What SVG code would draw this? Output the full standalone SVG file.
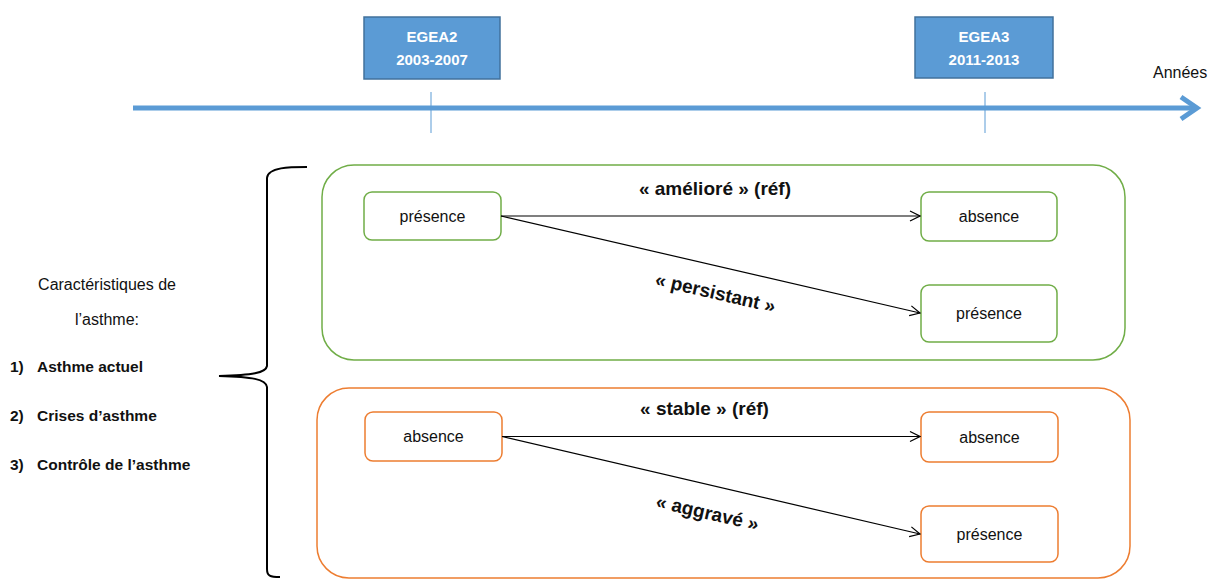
<svg xmlns="http://www.w3.org/2000/svg" width="1216" height="580" viewBox="0 0 1216 580">
<style>
text{font-family:"Liberation Sans",Arial,sans-serif;fill:#111}
.egea{fill:#5b9bd5;stroke:#41719c;stroke-width:1.5}
.et{fill:#fff;font-weight:bold;font-size:15px;text-anchor:middle}
.tick{stroke:#5b9bd5;stroke-width:1}
.g{fill:#fff;stroke:#70ad47;stroke-width:1.5}
.o{fill:#fff;stroke:#ed7d31;stroke-width:1.5}
.nt{font-size:16px;text-anchor:middle}
.lab{font-size:19px;font-weight:bold;text-anchor:middle}
.conn{stroke:#000;stroke-width:1.2;fill:none;marker-end:url(#ah)}
.left{font-size:16px}
.lb{font-size:15.5px;font-weight:bold}
</style>
<defs>
<marker id="ah" markerWidth="12" markerHeight="12" refX="11" refY="6" orient="auto" markerUnits="userSpaceOnUse">
<path d="M1,1 L11,6 L1,11" fill="none" stroke="#000" stroke-width="1.2"/>
</marker>
</defs>
<g id="timeline">
<line x1="133" y1="108" x2="1195" y2="108" stroke="#5b9bd5" stroke-width="5"/>
<polyline points="1181,97 1197,108 1181,119" fill="none" stroke="#5b9bd5" stroke-width="5"/>
<line class="tick" x1="431" y1="92" x2="431" y2="133"/>
<line class="tick" x1="985" y1="92" x2="985" y2="133"/>
<text x="1153" y="78" font-size="16">Années</text>
</g>
<g id="egea2">
<rect class="egea" x="364" y="17" width="136" height="62"/>
<text class="et" x="432" y="42">EGEA2</text>
<text class="et" x="432" y="65">2003-2007</text>
</g>
<g id="egea3">
<rect class="egea" x="915" y="17" width="138" height="61"/>
<text class="et" x="984" y="42">EGEA3</text>
<text class="et" x="984" y="65">2011-2013</text>
</g>
<g id="legend">
<text class="left" x="107" y="290" text-anchor="middle">Caractéristiques de</text>
<text class="left" x="107" y="325" text-anchor="middle">l’asthme:</text>
<text class="lb" x="10" y="372">1)</text><text class="lb" x="37" y="372">Asthme actuel</text>
<text class="lb" x="10" y="421">2)</text><text class="lb" x="37" y="421">Crises d’asthme</text>
<text class="lb" x="10" y="470">3)</text><text class="lb" x="37" y="470">Contrôle de l’asthme</text>
</g>
<g id="brace">
<path d="M307,167 C290,167 268,167 267,178 L267,366 C266,373 252,375 219,376 C252,377 266,379 267,387 L267,569 C267,576 270,577 280,577" fill="none" stroke="#000" stroke-width="2"/>
</g>
<g id="group-green">
<rect class="g" x="322" y="165" width="803" height="195" rx="32"/>
</g>
<g id="group-orange">
<rect class="o" x="317" y="388" width="813" height="190" rx="32"/>
</g>
<g id="n-g-presence">
<rect class="g" x="364" y="192" width="137" height="48" rx="8"/>
<text class="nt" x="432.5" y="221.5">présence</text>
</g>
<g id="n-g-absence2">
<rect class="g" x="921" y="192" width="136" height="49" rx="8"/>
<text class="nt" x="989" y="222">absence</text>
</g>
<g id="n-g-presence2">
<rect class="g" x="921" y="285" width="136" height="57" rx="8"/>
<text class="nt" x="989" y="319">présence</text>
</g>
<g id="n-o-absence">
<rect class="o" x="365" y="412" width="137" height="49" rx="8"/>
<text class="nt" x="433.5" y="442">absence</text>
</g>
<g id="n-o-absence2">
<rect class="o" x="921" y="412" width="137" height="50" rx="8"/>
<text class="nt" x="989.5" y="442.5">absence</text>
</g>
<g id="n-o-presence2">
<rect class="o" x="921" y="506" width="137" height="56" rx="8"/>
<text class="nt" x="989.5" y="539.5">présence</text>
</g>
<g id="connectors">
<line class="conn" x1="501" y1="216" x2="920" y2="216"/>
<line class="conn" x1="501" y1="216" x2="920" y2="313"/>
<line class="conn" x1="502" y1="436.5" x2="920" y2="436.5"/>
<line class="conn" x1="502" y1="436.5" x2="920" y2="534"/>
<text class="lab" x="715" y="195">« amélioré » (réf)</text>
<text class="lab" transform="translate(714,299) rotate(13)">« persistant »</text>
<text class="lab" x="704.5" y="415">« stable » (réf)</text>
<text class="lab" transform="translate(706,519) rotate(13)">« aggravé »</text>
</g>
</svg>
